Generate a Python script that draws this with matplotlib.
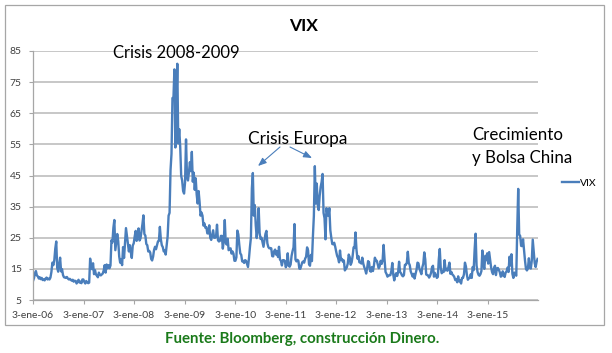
import pandas as pd
import matplotlib.pyplot as plt
from matplotlib.patches import Rectangle, FancyArrowPatch

# weekly VIX closes
vix_2006 = [11.1, 12.0, 13.5, 14.3, 12.9, 12.6, 11.9, 12.3, 11.7, 12.1, 11.4, 11.6, 11.3,
            11.9, 12.2, 11.6, 11.9, 11.6, 12.2, 14.0, 17.0, 16.2, 17.8, 21.5, 23.8, 15.3,
            14.1, 16.5, 18.6, 14.2, 14.9, 13.0, 12.3, 12.2, 12.1, 12.4, 11.9, 11.6, 11.8,
            11.5, 11.2, 11.5, 10.9, 11.2, 11.1, 10.3, 10.9, 11.5, 10.6, 10.9, 10.4, 11.6]
vix_2007 = [11.6, 10.8, 10.3, 11.1, 10.7, 10.4, 10.6, 18.3, 15.4, 14.9, 16.8, 13.3, 14.6,
            13.2, 12.8, 12.3, 13.8, 13.1, 12.9, 13.2, 13.5, 14.5, 16.2, 13.8, 16.4, 15.2,
            16.2, 15.2, 16.1, 24.2, 23.5, 28.2, 30.7, 21.0, 23.5, 26.2, 23.9, 19.0, 17.0,
            18.0, 16.2, 22.0, 18.5, 23.2, 28.1, 25.5, 22.9, 20.6, 22.6, 20.3, 18.5, 22.5]
vix_2008 = [23.2, 25.4, 27.2, 24.0, 26.4, 28.0, 24.1, 24.8, 27.0, 29.4, 32.2, 26.2, 25.7,
            23.0, 22.6, 20.6, 20.8, 20.3, 18.2, 17.7, 18.9, 21.1, 22.1, 21.3, 22.6, 23.8,
            24.0, 28.5, 24.5, 22.6, 22.0, 20.6, 20.9, 19.6, 22.6, 25.4, 32.1, 33.0, 46.7,
            52.0, 69.9, 69.7, 79.1, 54.0, 66.3, 80.9, 55.3, 59.9, 54.3, 44.9, 43.4, 40.0]
vix_2009 = [39.2, 42.8, 56.6, 44.8, 43.4, 46.0, 49.3, 46.4, 52.6, 43.0, 45.9, 40.4, 44.1,
            38.9, 36.0, 40.0, 36.5, 32.1, 33.1, 32.1, 28.9, 29.6, 28.2, 28.4, 26.4, 26.4,
            29.0, 25.0, 24.3, 25.9, 27.4, 25.0, 25.0, 25.4, 29.2, 24.2, 23.8, 24.0, 25.6,
            25.6, 21.5, 24.2, 30.7, 23.4, 22.8, 24.7, 21.0, 21.3, 21.6, 19.9, 20.6, 19.9]
vix_2010 = [17.6, 17.6, 18.7, 27.3, 26.1, 22.7, 20.0, 19.5, 17.4, 17.6, 16.9, 17.8, 17.6,
            16.6, 15.6, 18.4, 22.0, 25.0, 40.9, 45.8, 32.1, 35.5, 29.0, 24.9, 28.2, 34.5,
            26.5, 24.6, 25.0, 23.5, 22.1, 24.1, 26.2, 27.2, 23.2, 22.0, 21.6, 21.7, 21.6,
            19.1, 19.0, 20.7, 21.2, 19.6, 20.6, 18.8, 22.1, 18.0, 17.6, 16.1, 17.8, 17.8]
vix_2011 = [17.6, 15.5, 16.3, 20.0, 16.0, 15.7, 16.4, 19.2, 20.7, 21.9, 29.4, 18.0, 17.4,
            17.9, 17.6, 15.1, 15.0, 16.0, 17.1, 17.4, 17.0, 18.3, 18.9, 21.9, 21.0, 16.5,
            16.0, 19.5, 17.5, 25.3, 32.0, 48.0, 36.0, 42.4, 35.6, 33.9, 38.5, 41.3, 42.9,
            45.5, 33.0, 31.3, 24.5, 34.5, 32.8, 32.0, 34.5, 27.4, 25.0, 23.0, 22.9, 23.4]
vix_2012 = [22.2, 20.6, 19.2, 18.5, 17.1, 20.9, 17.8, 18.2, 17.3, 17.7, 14.5, 15.0, 15.5,
            16.7, 19.6, 18.8, 16.3, 17.1, 19.1, 21.9, 21.8, 26.7, 21.2, 18.3, 19.1, 17.1,
            17.1, 16.7, 18.6, 16.7, 15.6, 14.7, 13.5, 15.2, 17.5, 17.1, 14.3, 14.1, 15.6,
            14.3, 16.1, 18.6, 17.8, 17.6, 16.4, 15.2, 15.9, 17.6, 16.6, 17.8, 22.7, 18.0]
vix_2013 = [14.0, 13.4, 12.5, 12.9, 12.9, 13.0, 14.3, 16.9, 13.1, 11.3, 13.0, 13.6, 12.7,
            13.9, 17.3, 14.0, 13.6, 12.9, 12.6, 13.0, 16.3, 16.3, 17.0, 20.5, 16.9, 16.2,
            14.2, 13.3, 12.5, 13.4, 11.9, 13.4, 14.7, 17.0, 16.8, 15.0, 14.2, 13.3, 15.5,
            16.7, 20.3, 18.1, 13.2, 13.0, 12.9, 12.2, 12.8, 13.7, 15.5, 16.0, 12.5, 13.7]
vix_2014 = [12.9, 12.1, 12.4, 18.1, 21.4, 15.3, 13.6, 14.1, 14.0, 17.8, 14.5, 15.0, 14.4,
            15.6, 17.0, 13.4, 14.0, 13.2, 12.9, 12.4, 11.4, 11.7, 10.7, 12.6, 11.0, 11.3,
            10.3, 12.1, 12.1, 13.3, 17.0, 15.8, 13.1, 11.5, 12.0, 12.1, 13.3, 12.1, 15.6,
            14.6, 21.2, 26.3, 16.1, 14.0, 13.1, 12.8, 13.3, 14.3, 20.9, 16.5, 15.0, 19.2]
vix_2015 = [17.8, 20.0, 16.7, 20.4, 18.0, 15.5, 14.0, 13.3, 15.2, 16.0, 13.0, 15.1, 15.3,
            14.7, 13.9, 12.5, 12.7, 14.2, 13.1, 12.4, 13.8, 14.2, 15.4, 14.0, 18.9, 16.1,
            19.7, 13.4, 12.1, 13.8, 13.4, 12.8, 28.0, 40.7, 26.1, 25.6, 22.4, 22.3, 24.5,
            20.9, 17.7, 15.0, 14.5, 15.1, 18.4, 15.5, 15.1, 17.6, 24.4, 20.7, 16.9, 15.6,
            17.3, 18.2]

vix = (vix_2006 + vix_2007 + vix_2008 + vix_2009 + vix_2010 +
       vix_2011 + vix_2012 + vix_2013 + vix_2014 + vix_2015)
dates = pd.date_range('2006-01-03', periods=len(vix), freq='7D')

years = list(range(2006, 2016))
tick_labels = ['3-ene-06', '3-ene-07', '3-ene-08', '3-ene-09', '3-ene-10',
               '3-ene-11', '3-ene-12', '3-ene-13', '3-ene-14', '3-ene-15']
y_ticks = [5, 15, 25, 35, 45, 55, 65, 75, 85]

plt.rcParams['font.family'] = ['Lato', 'DejaVu Sans']

W, H = 612, 353
fig = plt.figure(figsize=(W / 100, H / 100), dpi=100)


def fx(x):
    return x / W


def fy(y):
    return 1 - y / H


# chart frame
fig.patches.append(Rectangle((fx(5), fy(325)), fx(604) - fx(5), fy(5) - fy(325),
                             transform=fig.transFigure, fill=False,
                             edgecolor='#A6A6A6', linewidth=0.9))

ax = fig.add_axes([fx(33), fy(300), fx(538) - fx(33), fy(51) - fy(300)])
blue = '#4A7EBB'
ax.plot(dates, vix, color=blue, linewidth=1.7, label='VIX')

ax.set_ylim(5, 85)
ax.set_yticks(y_ticks)
ax.set_xlim(pd.Timestamp('2006-01-03'), pd.Timestamp('2016-01-01'))
ax.set_xticks(pd.to_datetime([f'{y}-01-03' for y in years]))
ax.set_xticklabels(tick_labels)

ax.grid(axis='y', color='#BDBDBD', linewidth=1.2)
ax.set_axisbelow(True)
for s in ['top', 'right']:
    ax.spines[s].set_visible(False)
for s in ['left', 'bottom']:
    ax.spines[s].set_color('#A6A6A6')
    ax.spines[s].set_linewidth(0.9)
ax.tick_params(axis='both', direction='out', length=3, width=0.8, color='#A6A6A6',
               labelsize=7.5, labelcolor='#404040')
ax.tick_params(axis='x', pad=5)
ax.tick_params(axis='y', pad=5)

fig.text(fx(304), fy(26), 'VIX', ha='center', va='center', fontsize=12.5, fontweight='bold')

fig.text(fx(113), fy(53), 'Crisis 2008-2009', ha='left', va='center', fontsize=12)
fig.text(fx(248), fy(139), 'Crisis Europa', ha='left', va='center', fontsize=12.4)
fig.text(fx(472), fy(135), 'Crecimiento', ha='left', va='center', fontsize=12.2)
fig.text(fx(472), fy(158), 'y Bolsa China', ha='left', va='center', fontsize=12.2)

arrow = dict(arrowstyle='-|>,head_length=0.5,head_width=0.2', color=blue, lw=0.8,
             shrinkA=0, shrinkB=0, mutation_scale=10, transform=fig.transFigure)
fig.add_artist(FancyArrowPatch((fx(280), fy(147)), (fx(258), fy(166)), **arrow))
fig.add_artist(FancyArrowPatch((fx(290), fy(147)), (fx(312), fy(158)), **arrow))

leg = ax.legend(loc='center left', bbox_to_anchor=(fx(557), fy(183)),
                bbox_transform=fig.transFigure, frameon=False, fontsize=7.5,
                handlelength=1.6, handletextpad=0.15, borderpad=0)

fig.text(fx(302), fy(339), 'Fuente: Bloomberg, construcción Dinero.', ha='center',
         va='center', fontsize=10.8, fontweight='bold', color='#1A7A1A')

fig.savefig('out.png', dpi=100)
